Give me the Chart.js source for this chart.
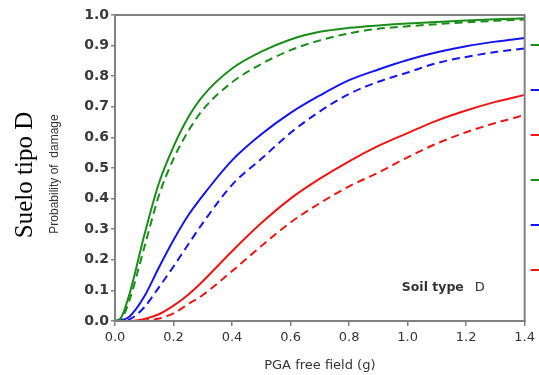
<!DOCTYPE html>
<html>
<head>
<meta charset="utf-8">
<script src="https://cdn.jsdelivr.net/npm/chart.js@4.4.1/dist/chart.umd.min.js"></script>
<style>
  html, body { margin: 0; padding: 0; background: #fff; overflow: hidden; }
  #wrap { position: relative; width: 539px; height: 375px; }
</style>
</head>
<body>
<div id="wrap"><canvas id="c" width="539" height="375"></canvas></div>
<script>
// Peak ground acceleration, free field (g)
const pga = [0, 0.02, 0.05, 0.1, 0.15, 0.2, 0.25, 0.3, 0.4, 0.5, 0.6, 0.7, 0.8, 0.9, 1.0, 1.1, 1.2, 1.3, 1.4];

// Fragility curves, soil type D (probability of damage)
const greenSolid = [0, 0.01, 0.09, 0.28, 0.45, 0.57, 0.665, 0.735, 0.825, 0.88, 0.92, 0.945, 0.958, 0.966, 0.972, 0.977, 0.982, 0.986, 0.989];
const blueSolid  = [0, 0.002, 0.015, 0.08, 0.175, 0.265, 0.345, 0.41, 0.525, 0.61, 0.68, 0.737, 0.787, 0.822, 0.853, 0.878, 0.898, 0.913, 0.925];
const redSolid   = [0, 0, 0, 0.007, 0.022, 0.05, 0.086, 0.13, 0.228, 0.32, 0.4, 0.465, 0.522, 0.572, 0.614, 0.655, 0.688, 0.716, 0.739];
const greenDash  = [0, 0.005, 0.07, 0.24, 0.41, 0.53, 0.62, 0.69, 0.78, 0.84, 0.885, 0.917, 0.94, 0.955, 0.963, 0.97, 0.976, 0.981, 0.985];
const blueDash   = [0, 0, 0.005, 0.045, 0.11, 0.178, 0.25, 0.32, 0.445, 0.53, 0.615, 0.685, 0.742, 0.782, 0.812, 0.843, 0.863, 0.879, 0.891];
const redDash    = [0, 0, 0, 0.002, 0.008, 0.025, 0.055, 0.085, 0.163, 0.245, 0.322, 0.385, 0.44, 0.485, 0.535, 0.58, 0.617, 0.647, 0.673];

// Axis tick values
const xTicks = [0, 0.2, 0.4, 0.6, 0.8, 1.0, 1.2, 1.4];
const yTicks = [0, 0.1, 0.2, 0.3, 0.4, 0.5, 0.6, 0.7, 0.8, 0.9, 1.0];

const GREEN = '#1a8c1a', BLUE = '#1414ee', RED = '#ee1414';

function series(values, color, dashed) {
  return {
    data: pga.map((x, i) => ({ x: x, y: values[i] })),
    borderColor: color,
    borderWidth: 2,
    borderDash: dashed ? [8, 5] : [],
    pointRadius: 0,
    fill: false,
    cubicInterpolationMode: 'monotone'
  };
}

function rotatedText(ctx, text, x, y, font, color) {
  ctx.save();
  ctx.translate(x, y);
  ctx.rotate(-Math.PI / 2);
  ctx.font = font;
  ctx.fillStyle = color;
  ctx.textAlign = 'center';
  ctx.textBaseline = 'middle';
  ctx.fillText(text, 0, 0);
  ctx.restore();
}

// Box around the plot area, side titles, short legend keys and the soil note
const decorations = {
  id: 'decorations',
  afterDatasetsDraw(chart) {
    const { ctx, chartArea: a, scales } = chart;
    ctx.save();
    ctx.strokeStyle = '#808080';
    ctx.lineWidth = 2;
    ctx.strokeRect(a.left, a.top, a.right - a.left, a.bottom - a.top);

    const midY = (a.top + a.bottom) / 2;
    rotatedText(ctx, 'Suelo tipo D', a.left - 90, midY + 7,
      '25px "Liberation Serif", "Times New Roman", serif', '#000');
    rotatedText(ctx, 'Probability of  damage', a.left - 60, midY + 6,
      '12px "Liberation Sans", Arial, sans-serif', '#333');

    chart.data.datasets.forEach((ds, i) => {
      const y = a.top + 30 + i * 45;
      ctx.strokeStyle = ds.borderColor;
      ctx.lineWidth = 2;
      ctx.beginPath();
      ctx.moveTo(a.right + 6, y);
      ctx.lineTo(a.right + 16, y);
      ctx.stroke();
    });

    const tx = scales.x.getPixelForValue(0.98);
    const ty = scales.y.getPixelForValue(0.108);
    ctx.fillStyle = '#333';
    ctx.textBaseline = 'middle';
    ctx.textAlign = 'left';
    ctx.font = 'bold 12.5px "DejaVu Sans"';
    ctx.fillText('Soil type', tx, ty);
    const w = ctx.measureText('Soil type').width;
    ctx.font = '13px "DejaVu Sans"';
    ctx.fillText('D', tx + w + 11, ty);
    ctx.restore();
  }
};

new Chart(document.getElementById('c'), {
  type: 'line',
  data: {
    datasets: [
      series(greenSolid, GREEN, false),
      series(blueSolid, BLUE, false),
      series(redSolid, RED, false),
      series(greenDash, GREEN, true),
      series(blueDash, BLUE, true),
      series(redDash, RED, true)
    ]
  },
  options: {
    responsive: false,
    animation: false,
    layout: { padding: { left: 40, top: 15, right: 12, bottom: 0 } },
    plugins: {
      legend: { display: false },
      tooltip: { enabled: false }
    },
    scales: {
      x: {
        type: 'linear',
        min: 0, max: 1.4,
        afterBuildTicks(s) { s.ticks = xTicks.map(v => ({ value: v })); },
        afterFit(s) { s.height = 54; },
        ticks: {
          callback: v => v.toFixed(1),
          color: '#333',
          font: { family: '"DejaVu Sans"', size: 13 },
          padding: 4,
          maxRotation: 0
        },
        grid: { drawOnChartArea: false, drawTicks: true, tickLength: 5, color: '#808080', lineWidth: 1.5 },
        border: { display: true, color: '#808080', width: 2 },
        title: {
          display: true,
          text: 'PGA free field (g)',
          color: '#333',
          font: { family: '"DejaVu Sans"', size: 13 },
          padding: { top: 0, bottom: 2 }
        }
      },
      y: {
        type: 'linear',
        min: 0, max: 1,
        afterBuildTicks(s) { s.ticks = yTicks.map(v => ({ value: v })); },
        afterFit(s) { s.width = 75; },
        ticks: {
          callback: v => v.toFixed(1),
          color: '#3a3a3a',
          font: { family: '"DejaVu Sans"', size: 14, weight: 'bold' },
          padding: 2
        },
        grid: { drawOnChartArea: false, drawTicks: true, tickLength: 4, color: '#808080', lineWidth: 1.5 },
        border: { display: true, color: '#808080', width: 2 }
      }
    }
  },
  plugins: [decorations]
});
</script>
</body>
</html>
